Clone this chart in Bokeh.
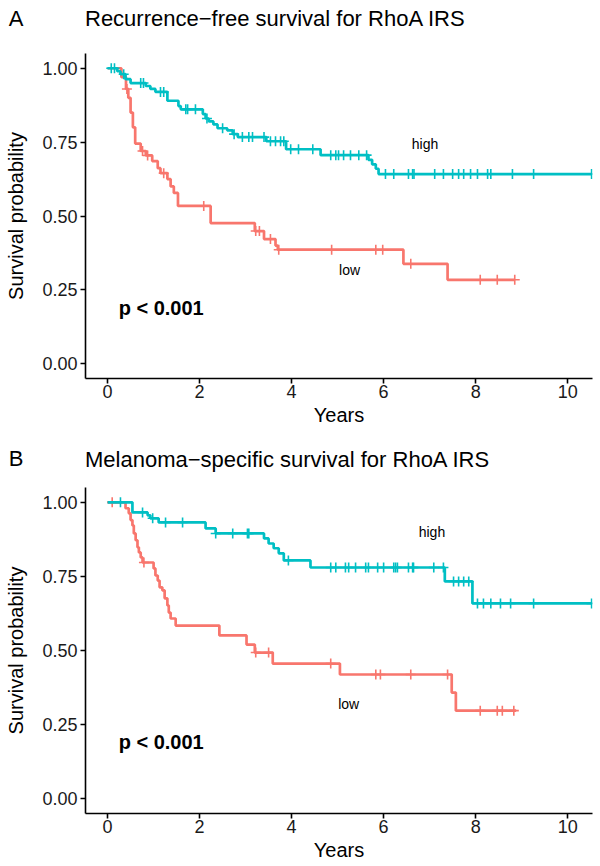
import numpy as np
from bokeh.plotting import figure
from bokeh.models import Range1d, FixedTicker, Label, NumeralTickFormatter
from bokeh.layouts import column
from bokeh.embed import file_html
from bokeh.resources import INLINE

FONT = "Liberation Sans"
HIGH_COLOR = "#00BFC4"
LOW_COLOR = "#F8766D"

x_ticks = [0, 2, 4, 6, 8, 10]
y_ticks = [0.0, 0.25, 0.5, 0.75, 1.0]

# ---------------- Panel A: Recurrence-free survival ----------------
a_high_t = [0.0, 0.21, 0.28, 0.39, 0.50, 0.83, 0.93, 1.04, 1.30, 1.54, 1.59, 2.07, 2.13, 2.20,
            2.30, 2.39, 2.60, 2.72, 2.83, 3.45, 3.88, 4.63, 5.67, 5.75, 5.83, 5.89]
a_high_s = [1.0, 0.99, 0.98, 0.963, 0.95, 0.94, 0.93, 0.92, 0.89, 0.872, 0.861, 0.845, 0.83, 0.82,
            0.81, 0.797, 0.79, 0.777, 0.767, 0.753, 0.726, 0.706, 0.69, 0.675, 0.66, 0.642]
a_high_end = 10.52
a_high_cens = [0.08, 0.15, 0.35, 0.72, 0.78, 1.15, 1.22, 1.70, 1.74, 1.91, 2.16, 2.50, 2.75, 2.93,
               3.07, 3.15, 3.40, 3.54, 3.65, 3.76, 3.83, 3.98, 4.15, 4.46, 4.85, 4.96, 5.02, 5.13,
               5.28, 5.46, 5.63, 6.04, 6.22, 6.54, 6.63, 6.66, 7.11, 7.30, 7.50, 7.63, 7.74, 7.89,
               8.04, 8.26, 8.33, 8.80, 9.26, 10.52]

a_low_t = [0.0, 0.30, 0.40, 0.45, 0.50, 0.55, 0.60, 0.72, 0.83, 0.97, 1.09, 1.15, 1.30, 1.37,
           1.44, 1.53, 2.24, 3.20, 3.40, 3.65, 3.70, 6.43, 7.39]
a_low_s = [1.0, 0.97, 0.93, 0.90, 0.85, 0.80, 0.745, 0.72, 0.705, 0.686, 0.662, 0.645, 0.625, 0.60,
           0.578, 0.534, 0.476, 0.449, 0.422, 0.40, 0.386, 0.338, 0.284]
a_low_end = 8.85
a_low_cens = [0.42, 0.76, 0.87, 1.22, 2.09, 3.22, 3.30, 3.54, 3.72, 4.87, 5.83, 5.98, 6.59,
              8.10, 8.47, 8.85]

# ---------------- Panel B: Melanoma-specific survival ----------------
b_high_t = [0.0, 0.54, 0.87, 0.93, 1.11, 2.13, 2.35, 3.40, 3.50, 3.61, 3.72, 3.83, 4.41, 7.33, 7.93]
b_high_s = [1.0, 0.966, 0.956, 0.946, 0.932, 0.912, 0.895, 0.878, 0.861, 0.845, 0.828, 0.804,
            0.78, 0.733, 0.659]
b_high_end = 10.52
b_high_cens = [0.28, 0.76, 0.98, 1.26, 1.63, 2.35, 2.72, 3.04, 3.07, 3.93, 4.85, 4.96, 5.17, 5.24,
               5.39, 5.61, 5.67, 5.87, 6.00, 6.22, 6.26, 6.30, 6.54, 6.63, 6.65, 7.09, 7.30, 7.52,
               7.63, 7.74, 7.85, 8.04, 8.17, 8.33, 8.54, 8.76, 9.26, 10.52]

b_low_t = [0.0, 0.39, 0.46, 0.50, 0.54, 0.57, 0.61, 0.65, 0.68, 0.72, 0.76, 1.00, 1.04, 1.09,
           1.13, 1.19, 1.24, 1.30, 1.33, 1.37, 1.48, 2.43, 3.02, 3.20, 3.59, 5.05, 7.48, 7.57]
b_low_s = [1.0, 0.98, 0.963, 0.94, 0.922, 0.895, 0.872, 0.848, 0.831, 0.814, 0.797, 0.777, 0.753,
           0.736, 0.713, 0.703, 0.676, 0.652, 0.628, 0.608, 0.584, 0.551, 0.52, 0.493, 0.456,
           0.419, 0.358, 0.297]
b_low_end = 8.88
b_low_cens = [0.10, 0.79, 3.22, 3.50, 4.85, 5.83, 5.93, 6.59, 7.39, 8.10, 8.47, 8.58, 8.83]

group_labels = ["high", "low"]
a_label_pos = {"high": (6.9, 0.743), "low": (5.26, 0.318)}
b_label_pos = {"high": (7.05, 0.90), "low": (5.24, 0.318)}
p_text = "p < 0.001"
p_pos = (0.24, 0.19)

W = 600
FRAME_L = 85
FRAME_R = 592


def km_at(times, surv, t):
    idx = np.searchsorted(np.asarray(times), np.asarray(t), side="right") - 1
    return np.asarray(surv)[idx]


def draw_group(p, times, surv, end, cens, color):
    xs = list(times) + [end]
    ys = list(surv) + [surv[-1]]
    p.step(xs, ys, mode="after", line_color=color, line_width=2.7)
    cy = km_at(times, surv, cens)
    p.scatter(cens, cy, marker="cross", size=10, line_color=color, line_width=1.6)


def title_strip(letter, title, height, title_center, letter_center):
    # strip with its own frame aligned to the panel below; the panel letter is
    # shown as the single tick label of the strip's (invisible) left axis
    t = figure(width=W, height=height, x_range=Range1d(FRAME_L, FRAME_R),
               y_range=Range1d(0, height), x_axis_type=None,
               output_backend="svg", toolbar_location=None,
               min_border_left=FRAME_L, min_border_right=W - FRAME_R,
               min_border_top=0, min_border_bottom=0)
    t.outline_line_color = None
    t.grid.visible = False
    yc = height - letter_center
    ax = t.yaxis[0]
    ax.ticker = FixedTicker(ticks=[yc])
    ax.major_label_overrides = {yc: letter}
    ax.axis_line_color = None
    ax.major_tick_line_color = None
    ax.minor_tick_line_color = None
    ax.major_tick_out = 0
    ax.major_tick_in = 0
    ax.major_label_standoff = FRAME_L - 8 - 15
    ax.major_label_text_font = FONT
    ax.major_label_text_font_size = "22px"
    ax.major_label_text_color = "black"
    t.add_layout(Label(x=FRAME_L - 0.5, y=height - title_center, text=title, text_font=FONT,
                       text_font_size="22px", text_baseline="middle",
                       text_color="black"))
    return t


def make_panel(groups, label_pos, height, bottom):
    p = figure(width=W, height=height,
               x_range=Range1d(-0.48, 10.54), y_range=Range1d(-0.05, 1.05),
               output_backend="svg", toolbar_location=None,
               min_border_left=FRAME_L, min_border_right=W - FRAME_R,
               min_border_top=0, min_border_bottom=bottom)
    p.outline_line_color = None
    p.xgrid.grid_line_color = None
    p.ygrid.grid_line_color = None
    p.background_fill_color = "white"
    p.border_fill_color = "white"

    for times, surv, end, cens, color in groups:
        draw_group(p, times, surv, end, cens, color)

    for ax in (p.xaxis[0], p.yaxis[0]):
        ax.axis_line_color = "black"
        ax.axis_line_width = 1.6
        ax.major_tick_line_color = "black"
        ax.major_tick_line_width = 1.6
        ax.major_tick_in = 0
        ax.major_tick_out = 5
        ax.minor_tick_line_color = None
        ax.major_label_text_color = "#1a1a1a"
        ax.major_label_text_font = FONT
        ax.axis_label_text_font = FONT
        ax.axis_label_text_font_style = "normal"
        ax.axis_label_text_color = "black"
    p.xaxis.ticker = FixedTicker(ticks=x_ticks)
    p.yaxis.ticker = FixedTicker(ticks=y_ticks)
    p.yaxis.formatter = NumeralTickFormatter(format="0.00")
    p.xaxis.major_label_text_font_size = "18px"
    p.yaxis.major_label_text_font_size = "18px"
    p.xaxis.major_label_standoff = 1
    p.yaxis.major_label_standoff = 3
    p.xaxis.axis_label = "Years"
    p.yaxis.axis_label = "Survival probability"
    p.xaxis.axis_label_text_font_size = "20px"
    p.yaxis.axis_label_text_font_size = "20px"
    p.xaxis.axis_label_standoff = 3
    p.yaxis.axis_label_standoff = 12

    for g in group_labels:
        gx, gy = label_pos[g]
        p.add_layout(Label(x=gx, y=gy, text=g, text_font=FONT, text_font_size="14px",
                           text_align="center", text_baseline="middle", text_color="black"))
    p.add_layout(Label(x=p_pos[0], y=p_pos[1], text=p_text, text_font=FONT,
                       text_font_size="20px", text_font_style="bold",
                       text_baseline="middle", text_color="black"))
    return p


tA = title_strip("A", "Recurrence\u2212free survival for RhoA IRS", 53, 18, 18)
pA = make_panel([(a_low_t, a_low_s, a_low_end, a_low_cens, LOW_COLOR),
                 (a_high_t, a_high_s, a_high_end, a_high_cens, HIGH_COLOR)],
                a_label_pos, height=390, bottom=65)
tB = title_strip("B", "Melanoma\u2212specific survival for RhoA IRS", 44, 16, 15)
pB = make_panel([(b_low_t, b_low_s, b_low_end, b_low_cens, LOW_COLOR),
                 (b_high_t, b_high_s, b_high_end, b_high_cens, HIGH_COLOR)],
                b_label_pos, height=379, bottom=53)

layout = column(tA, pA, tB, pB, spacing=0)
open("out.html", "w").write(file_html(layout, INLINE))
